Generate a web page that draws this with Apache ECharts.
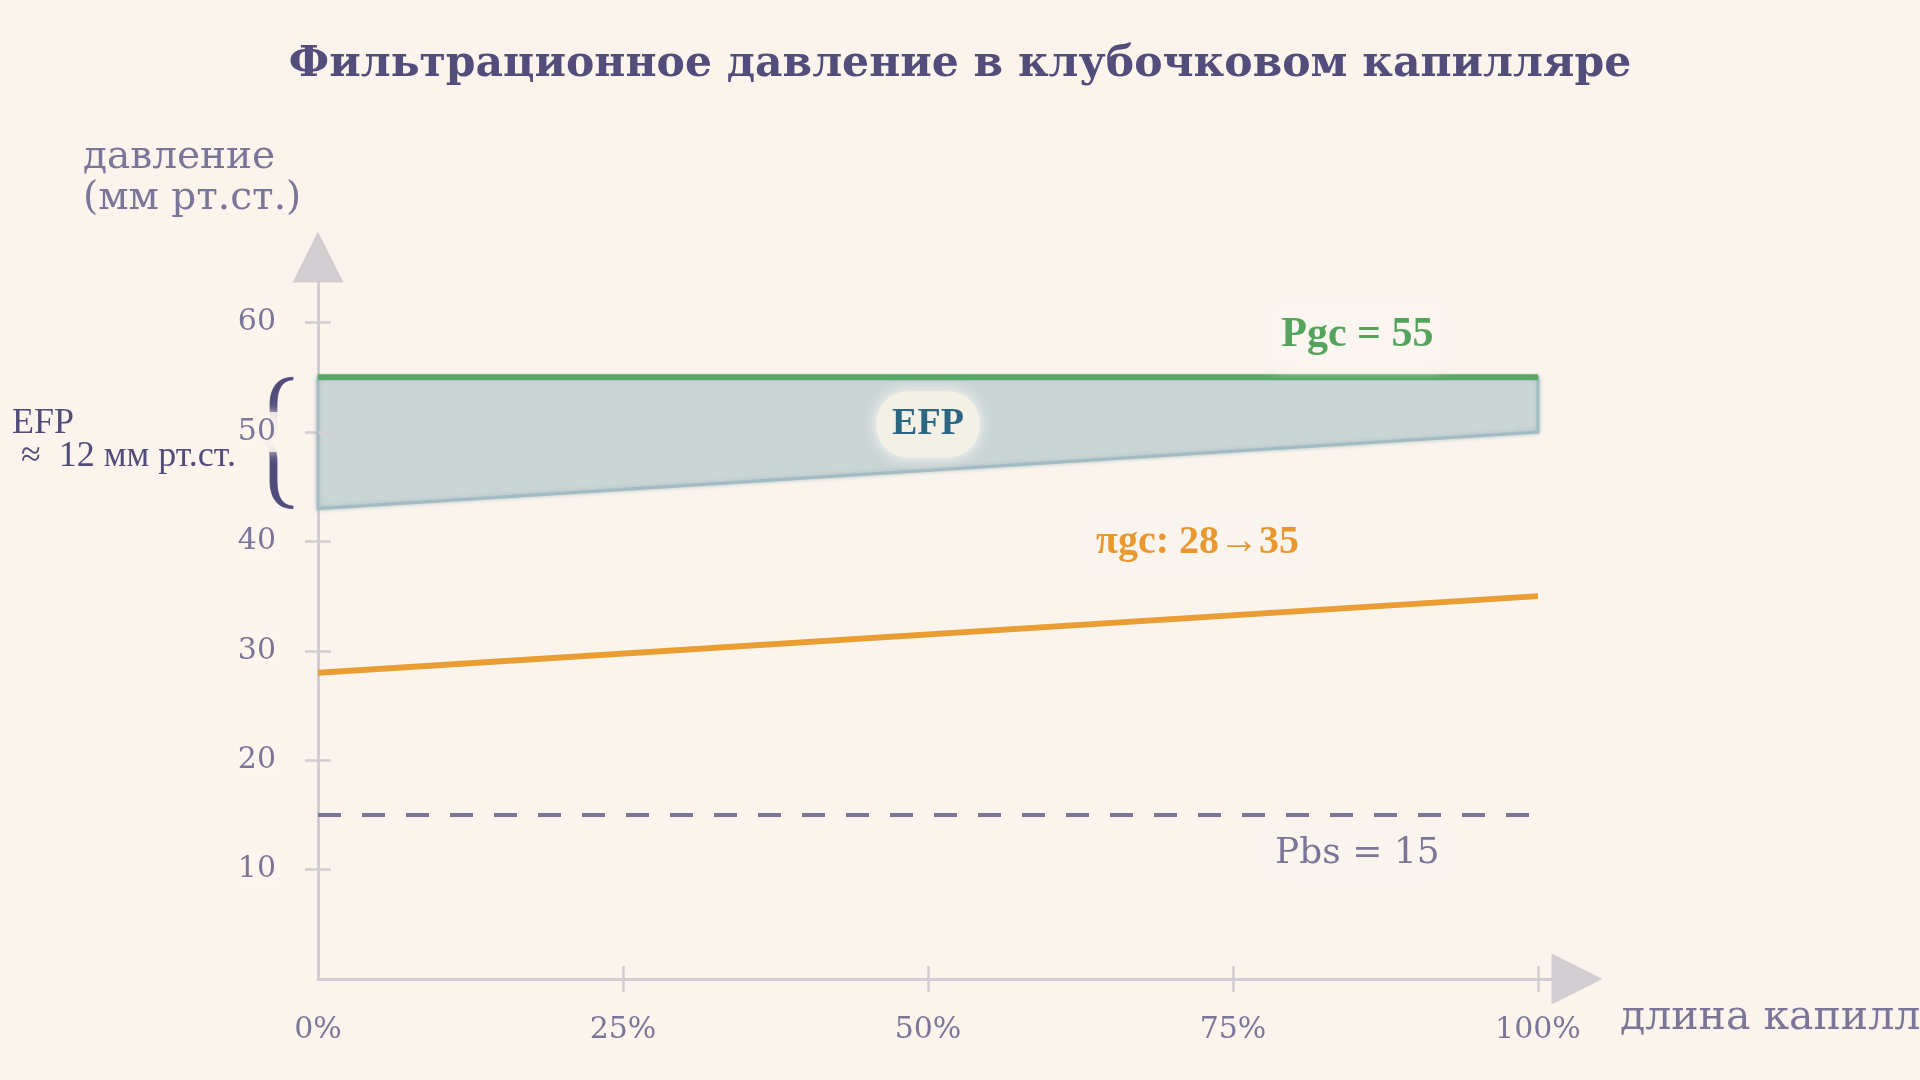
<!DOCTYPE html>
<html>
<head>
<meta charset="utf-8">
<title>Фильтрационное давление</title>
<script src="https://cdn.jsdelivr.net/npm/echarts@6/dist/echarts.min.js"></script>
<style>
	html, body { margin: 0; padding: 0; background: #faf4ed; }
	#chart { width: 1920px; height: 1080px; }
</style>
</head>
<body>
<div id="chart"></div>
<script>
// данные: длина капилляра (%) и давления (мм рт.ст.)
var xPos = [0, 100];
var pgc = [55, 55];          // гидростатическое давление в капилляре
var piGc = [28, 35];         // онкотическое давление
var pbs = [15, 15];          // давление в капсуле
var efpLower = [43, 50];     // πgc + Pbs, нижняя граница EFP
var xTickValues = [0, 25, 50, 75, 100];
var yTickValues = [10, 20, 30, 40, 50, 60];

var serif = "'DejaVu Serif', serif";
var serifB = "'Liberation Serif', serif";
var muted = '#7b7597';
var axisGray = '#d1cdd0';

function pairs(xs, ys) {
	var out = [];
	for (var i = 0; i < xs.length; i++) {
		out.push([xs[i], ys[i]]);
	}
	return out;
}

// путь фигурной скобки (залитый, толще в середине)
function bracePath(ax, yT, yB) {
	var yM = (yT + yB) / 2;
	var p = function (dx, y) { return (ax + dx) + ',' + y; };
	return 'M' + p(-25, yT) +
		' C' + p(-40, yT) + ' ' + p(-48, yT + 10) + ' ' + p(-48, yT + 28) +
		' L' + p(-48, yM - 16) +
		' C' + p(-48, yM - 6) + ' ' + p(-51, yM - 1) + ' ' + p(-57, yM) +
		' C' + p(-51, yM + 1) + ' ' + p(-48, yM + 6) + ' ' + p(-48, yM + 16) +
		' L' + p(-48, yB - 28) +
		' C' + p(-48, yB - 10) + ' ' + p(-40, yB) + ' ' + p(-25, yB) +
		' L' + p(-25, yB - 2.5) +
		' C' + p(-36, yB - 3) + ' ' + p(-41, yB - 12) + ' ' + p(-41, yB - 28) +
		' L' + p(-41, yM + 18) +
		' C' + p(-41, yM + 8) + ' ' + p(-44, yM + 2) + ' ' + p(-50, yM) +
		' C' + p(-44, yM - 2) + ' ' + p(-41, yM - 8) + ' ' + p(-41, yM - 18) +
		' L' + p(-41, yT + 28) +
		' C' + p(-41, yT + 12) + ' ' + p(-36, yT + 3) + ' ' + p(-25, yT + 2.5) +
		' Z';
}

var chart = echarts.init(document.getElementById('chart'));

var option = {
	backgroundColor: '#faf4ed',
	animation: false,
	title: {
		text: 'Фильтрационное давление в клубочковом капилляре',
		left: 'center',
		top: 38,
		textStyle: {
			fontFamily: serif,
			fontWeight: 'bold',
			fontSize: 42.5,
			color: '#534d7b'
		}
	},
	grid: {
		left: 318,
		right: 343,
		top: 257,
		bottom: 101
	},
	xAxis: [
		{
			type: 'value',
			min: 0,
			max: 103.2,
			interval: 25,
			axisLine: {
				show: true,
				symbol: ['none', 'triangle'],
				symbolSize: [51, 51],
				lineStyle: { color: axisGray, width: 3 }
			},
			axisTick: {
				show: true,
				length: 13,
				customValues: [25, 50, 75, 100],
				lineStyle: { color: axisGray, width: 2.5 }
			},
			axisLabel: {
				customValues: xTickValues,
				margin: 36,
				formatter: '{value}%',
				fontFamily: serif,
				fontSize: 30,
				color: muted
			},
			splitLine: { show: false }
		},
		{
			// внутренняя половина штрихов
			type: 'value',
			position: 'bottom',
			offset: 0,
			min: 0,
			max: 103.2,
			interval: 25,
			axisLine: { show: false },
			axisTick: {
				show: true,
				inside: true,
				length: 13,
				customValues: [25, 50, 75, 100],
				lineStyle: { color: axisGray, width: 2.5 }
			},
			axisLabel: { show: false },
			splitLine: { show: false }
		}
	],
	yAxis: [
		{
			type: 'value',
			min: 0,
			max: 66,
			interval: 10,
			axisLine: {
				show: true,
				symbol: ['none', 'triangle'],
				symbolSize: [51, 51],
				lineStyle: { color: axisGray, width: 3 }
			},
			axisTick: {
				show: true,
				length: 13,
				customValues: yTickValues,
				lineStyle: { color: axisGray, width: 2.5 }
			},
			axisLabel: { show: false },
			splitLine: { show: false }
		},
		{
			type: 'value',
			position: 'left',
			offset: 0,
			min: 0,
			max: 66,
			interval: 10,
			z: 6,
			axisLine: { show: false },
			axisTick: {
				show: true,
				inside: true,
				length: 13,
				customValues: yTickValues,
				lineStyle: { color: axisGray, width: 2.5 }
			},
			axisLabel: {
				customValues: yTickValues,
				margin: 38,
				fontFamily: serif,
				fontSize: 30,
				color: muted,
				backgroundColor: 'rgba(250,244,237,0.85)',
				padding: [8, 4, 2, 4],
				shadowBlur: 10,
				shadowColor: 'rgba(250,244,237,1)'
			},
			splitLine: { show: false }
		}
	],
	graphic: [
		{
			type: 'text',
			left: 83,
			top: 137,
			style: {
				text: 'давление\n(мм рт.ст.)',
				font: "39px 'DejaVu Serif', serif",
				fill: muted,
				lineHeight: 41
			}
		},
		{
			type: 'text',
			left: 1620,
			top: 998,
			style: {
				text: 'длина капилляра',
				font: "41px 'DejaVu Serif', serif",
				fill: muted
			}
		}
	],
	series: [
		{
			// область EFP между Pgc и πgc + Pbs
			name: 'EFP',
			type: 'custom',
			z: 1,
			data: [[xPos[0], efpLower[0]]],
			renderItem: function (params, api) {
				var pts = [];
				for (var i = 0; i < xPos.length; i++) {
					pts.push(api.coord([xPos[i], pgc[i]]));
				}
				for (var j = xPos.length - 1; j >= 0; j--) {
					pts.push(api.coord([xPos[j], efpLower[j]]));
				}
				return {
					type: 'polygon',
					shape: { points: pts },
					style: {
						fill: '#cbd5d6',
						stroke: '#a3bcc3',
						lineWidth: 3,
						shadowBlur: 4,
						shadowColor: 'rgba(150,176,186,0.6)'
					}
				};
			}
		},
		{
			name: 'Pbs',
			type: 'line',
			z: 2,
			data: pairs(xPos, pbs),
			symbol: 'none',
			lineStyle: { color: muted, width: 4, type: [23, 21] }
		},
		{
			name: 'πgc',
			type: 'line',
			z: 2,
			data: pairs(xPos, piGc),
			symbol: 'none',
			lineStyle: { color: '#e99d33', width: 6 }
		},
		{
			name: 'Pgc',
			type: 'line',
			z: 3,
			data: pairs(xPos, pgc),
			symbol: 'none',
			lineStyle: { color: '#57a862', width: 6 }
		},
		{
			// фигурная скобка и подпись EFP слева
			name: 'brace',
			type: 'custom',
			z: 4,
			data: [[xPos[0], pgc[0]]],
			renderItem: function (params, api) {
				var top = api.coord([xPos[0], pgc[0]]);
				var bot = api.coord([xPos[0], efpLower[0]]);
				var ax = top[0];
				var yM = (top[1] + bot[1]) / 2;
				return {
					type: 'group',
					children: [
						{
							type: 'path',
							shape: { pathData: bracePath(ax, top[1], bot[1]) },
							style: { fill: '#524c7b', stroke: '#524c7b', lineWidth: 0.8 }
						},
						{
							type: 'text',
							style: {
								text: 'EFP\n ≈  ' + (pgc[0] - efpLower[0]) + ' мм рт.ст.',
								x: ax - 306,
								y: yM - 3,
								align: 'left',
								verticalAlign: 'middle',
								font: "36px 'Liberation Serif', serif",
								lineHeight: 33,
								fill: '#524c7b'
							}
						}
					]
				};
			}
		},
		{
			// подписи линий
			name: 'labels',
			type: 'scatter',
			z: 8,
			symbolSize: 0,
			silent: true,
			itemStyle: { opacity: 1 },
			data: [
				{
					value: [85.2, 58.9],
					label: {
						formatter: 'Pgc = ' + pgc[0],
						fontFamily: serifB,
						fontWeight: 'bold',
						fontSize: 42,
						color: '#55a45e',
						backgroundColor: 'rgba(250,244,237,0.9)',
						padding: [10, 16, 18, 16],
						borderRadius: 20,
						shadowBlur: 12,
						shadowColor: 'rgba(252,248,240,1)'
					}
				},
				{
					value: [50, 50.7],
					label: {
						formatter: 'EFP',
						fontFamily: serifB,
						fontWeight: 'bold',
						fontSize: 38,
						color: '#2b6782',
						backgroundColor: '#f3f0e5',
						padding: [14, 16],
						borderRadius: 32,
						shadowBlur: 14,
						shadowColor: 'rgba(255,253,245,1)'
					}
				},
				{
					value: [72.1, 39.9],
					label: {
						formatter: 'πgc: ' + piGc[0] + '→' + piGc[1],
						fontFamily: serifB,
						fontWeight: 'bold',
						fontSize: 40,
						color: '#e8982e',
						backgroundColor: 'rgba(250,244,237,0.9)',
						padding: [8, 14],
						borderRadius: 16,
						shadowBlur: 10,
						shadowColor: 'rgba(250,244,237,1)'
					}
				},
				{
					value: [85.2, 11.5],
					label: {
						formatter: 'Pbs = ' + pbs[0],
						fontFamily: serif,
						fontSize: 36,
						color: muted,
						backgroundColor: 'rgba(250,244,237,0.9)',
						padding: [8, 14],
						borderRadius: 16,
						shadowBlur: 10,
						shadowColor: 'rgba(250,244,237,1)'
					}
				}
			],
			label: { show: true, position: 'inside' }
		}
	]
};

chart.setOption(option);
</script>
</body>
</html>
